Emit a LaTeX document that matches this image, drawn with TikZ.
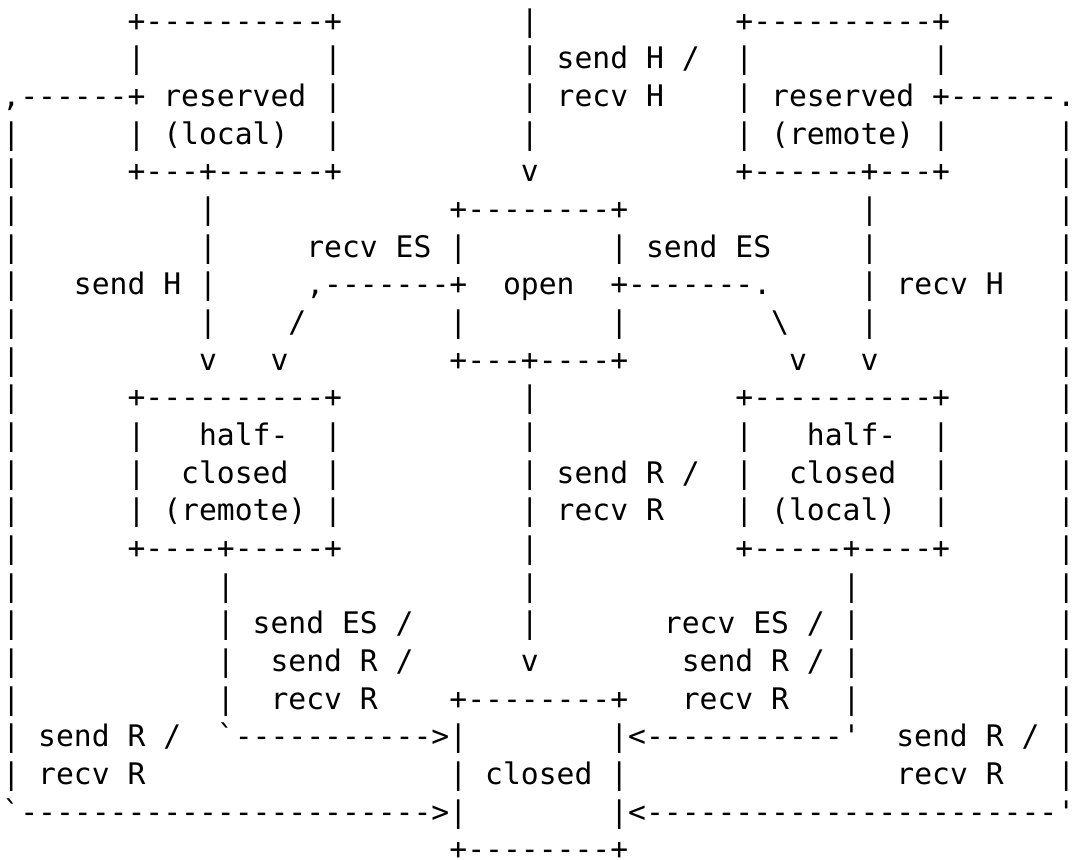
\documentclass[tikz,border=0pt]{standalone}
\usepackage{fontspec}
\setmonofont{DejaVu Sans Mono}
\usepackage{tikz}
\newcommand\gaps[1]{\hspace*{#1\fontcharwd\font`x}}
\tikzset{asciirow/.style={anchor=base west, inner sep=0pt, font=\fontsize{14.849pt}{18.83pt}\selectfont\ttfamily}}

\begin{document}
\begin{tikzpicture}
\useasboundingbox (0pt,0pt) rectangle (537.5pt,-430pt);
\node (r0) [asciirow] at (63.58pt, -15.6pt) {+----------+\gaps{10}|\gaps{11}+----------+};
\node (r1) [asciirow] at (63.58pt, -34.43pt) {|\gaps{10}|\gaps{10}| send H /\gaps{2}|\gaps{10}|};
\node (r2) [asciirow] at (1.0pt, -53.26pt) {,------+ reserved |\gaps{10}| recv H\gaps{4}| reserved +------.};
\node (r3) [asciirow] at (1.0pt, -72.09pt) {|\gaps{6}| (local)\gaps{2}|\gaps{10}|\gaps{11}| (remote) |\gaps{6}|};
\node (r4) [asciirow] at (1.0pt, -90.92pt) {|\gaps{6}+---+------+\gaps{10}v\gaps{11}+------+---+\gaps{6}|};
\node (r5) [asciirow] at (1.0pt, -109.75pt) {|\gaps{10}|\gaps{13}+--------+\gaps{13}|\gaps{10}|};
\node (r6) [asciirow] at (1.0pt, -128.58pt) {|\gaps{10}|\gaps{5}recv ES |\gaps{8}| send ES\gaps{5}|\gaps{10}|};
\node (r7) [asciirow] at (1.0pt, -147.41pt) {|\gaps{3}send H |\gaps{5},-------+\gaps{2}open\gaps{2}+-------.\gaps{5}| recv H\gaps{3}|};
\node (r8) [asciirow] at (1.0pt, -166.24pt) {|\gaps{10}|\gaps{4}/\gaps{8}|\gaps{8}|\gaps{8}\textbackslash\gaps{4}|\gaps{10}|};
\node (r9) [asciirow] at (1.0pt, -185.07pt) {|\gaps{10}v\gaps{3}v\gaps{9}+---+----+\gaps{9}v\gaps{3}v\gaps{10}|};
\node (r10) [asciirow] at (1.0pt, -203.9pt) {|\gaps{6}+----------+\gaps{10}|\gaps{11}+----------+\gaps{6}|};
\node (r11) [asciirow] at (1.0pt, -222.73pt) {|\gaps{6}|\gaps{3}half-\gaps{2}|\gaps{10}|\gaps{11}|\gaps{3}half-\gaps{2}|\gaps{6}|};
\node (r12) [asciirow] at (1.0pt, -241.56pt) {|\gaps{6}|\gaps{2}closed\gaps{2}|\gaps{10}| send R /\gaps{2}|\gaps{2}closed\gaps{2}|\gaps{6}|};
\node (r13) [asciirow] at (1.0pt, -260.39pt) {|\gaps{6}| (remote) |\gaps{10}| recv R\gaps{4}| (local)\gaps{2}|\gaps{6}|};
\node (r14) [asciirow] at (1.0pt, -279.22pt) {|\gaps{6}+----+-----+\gaps{10}|\gaps{11}+-----+----+\gaps{6}|};
\node (r15) [asciirow] at (1.0pt, -298.05pt) {|\gaps{11}|\gaps{16}|\gaps{17}|\gaps{11}|};
\node (r16) [asciirow] at (1.0pt, -316.88pt) {|\gaps{11}| send ES /\gaps{6}|\gaps{7}recv ES / |\gaps{11}|};
\node (r17) [asciirow] at (1.0pt, -335.71pt) {|\gaps{11}|\gaps{2}send R /\gaps{6}v\gaps{8}send R / |\gaps{11}|};
\node (r18) [asciirow] at (1.0pt, -354.54pt) {|\gaps{11}|\gaps{2}recv R\gaps{4}+--------+\gaps{3}recv R\gaps{3}|\gaps{11}|};
\node (r19) [asciirow] at (1.0pt, -373.37pt) {| send R /\gaps{2}`----------->|\gaps{8}|<-----------'\gaps{2}send R / |};
\node (r20) [asciirow] at (1.0pt, -392.2pt) {| recv R\gaps{17}| closed |\gaps{15}recv R\gaps{3}|};
\node (r21) [asciirow] at (1.0pt, -411.03pt) {`----------------------->|\gaps{8}|<-----------------------'};
\node (r22) [asciirow] at (224.5pt, -429.86pt) {+--------+};
\end{tikzpicture}
\end{document}
